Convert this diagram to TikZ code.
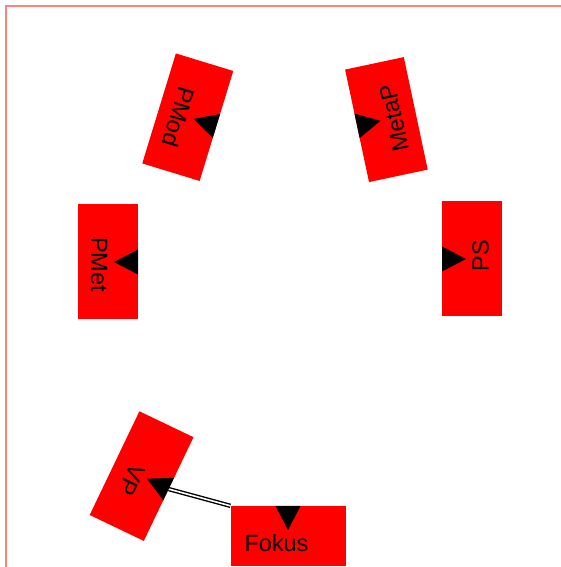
\documentclass[tikz,border=0pt]{standalone}
\usepackage{fontspec}
\setmainfont{Liberation Sans}
\begin{document}
\begin{tikzpicture}[x=1pt,y=1pt,
  box/.style={fill=red, minimum width=115pt, minimum height=60pt, inner sep=0pt, transform shape},
  lbl/.style={font=\fontsize{23.5}{27}\selectfont, inner sep=0pt, transform shape},
  tri/.style={fill=black},
  dbl/.style={draw=black, double=white, line width=1.4pt, double distance=1.6pt}]
\useasboundingbox (0,0) rectangle (561,567);
\draw[color={rgb,255:red,255;green,130;blue,130}, line width=1.3pt] (6,0) |- (561,561);
% Fokus
\begin{scope}[shift={(288,31)}, rotate=0]
  \node[box] (fokus) at (0,0) {};
  \node[lbl] (fokusl) at (-11.5,-7.5) {Fokus};
  \coordinate (fokust) at (0,30);
  \fill[tri] (-12.5,30) -- (12.5,30) -- (0,6) -- cycle;
\end{scope}
% VP
\begin{scope}[shift={(141.6,90.9)}, rotate=-115.6]
  \node[box] (vp) at (0,0) {};
  \node[lbl] (vpl) at (8,-7) {VP};
  \coordinate (vpt) at (0,30);
\end{scope}
% PMet
\begin{scope}[shift={(108,305)}, rotate=-90]
  \node[box] (pmet) at (0,0) {};
  \node[lbl] (pmetl) at (2.5,-9) {PMet};
  \fill[tri] (-12.5,30) -- (12.5,30) -- (0,6) -- cycle;
\end{scope}
% PMod
\begin{scope}[shift={(187.75,449.8)}, rotate=-107]
  \node[box] (pmod) at (0,0) {};
  \node[lbl] (pmodl) at (2.4,-8.4) {PMod};
  \fill[tri] (-12.5,30) -- (12.5,30) -- (0,6) -- cycle;
\end{scope}
% MetaP
\begin{scope}[shift={(386.4,447.4)}, rotate=102]
  \node[box] (metap) at (0,0) {};
  \node[lbl] (metapl) at (0,-8) {MetaP};
  \fill[tri] (-12.5,30) -- (12.5,30) -- (0,6) -- cycle;
\end{scope}
% PS
\begin{scope}[shift={(472,308)}, rotate=90]
  \node[box] (ps) at (0,0) {};
  \node[lbl] (psl) at (3,-8.5) {PS};
  \fill[tri] (-12.5,30) -- (12.5,30) -- (0,6) -- cycle;
\end{scope}
% connector Fokus -> VP
\draw[dbl] (fokus.north west) -- (vpt);
\begin{scope}[shift={(141.6,90.9)}, rotate=-115.6]
  \fill[tri] (-12.5,30) -- (12.5,30) -- (0,6) -- cycle;
\end{scope}
\end{tikzpicture}
\end{document}
